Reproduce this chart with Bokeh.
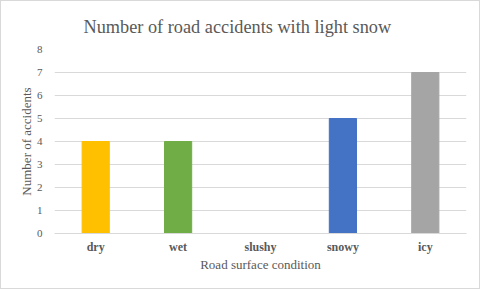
from bokeh.plotting import figure
from bokeh.models import ColumnDataSource, FactorRange, Range1d, FixedTicker
from bokeh.embed import file_html
from bokeh.resources import INLINE

# Data
categories = ["dry", "wet", "slushy", "snowy", "icy"]
accidents = [4, 4, 0, 5, 7]
bar_colors = ["#FFC000", "#70AD47", "#ED7D31", "#4472C4", "#A5A5A5"]
y_ticks = [0, 1, 2, 3, 4, 5, 6, 7, 8]

TEXT = "#595959"
GRID = "#d9d9d9"
FONT = "'Liberation Serif', 'Times New Roman', serif"

source = ColumnDataSource(dict(x=categories, top=accidents, color=bar_colors))

p = figure(width=480, height=289, output_backend="svg", toolbar_location=None,
           x_range=FactorRange(*categories, range_padding=0),
           y_range=Range1d(0, 8))
p.min_border_left = 53
p.min_border_right = 15
p.min_border_top = 48
p.min_border_bottom = 57
p.outline_line_color = None
p.background_fill_color = "white"
p.border_fill_color = "white"
p.styles = {"border": "1px solid #d9d9d9", "box-sizing": "border-box"}

p.vbar(x="x", top="top", width=0.33, color="color", source=source)

# title
p.title.text = "Number of road accidents with light snow"
p.title.align = "left"
p.title.offset = 29
p.title.text_font = FONT
p.title.text_font_size = "18.3px"
p.title.text_font_style = "normal"
p.title.text_color = TEXT
p.title.standoff = 25

# y axis
p.yaxis.ticker = FixedTicker(ticks=y_ticks)
p.yaxis.axis_line_color = None
p.yaxis.major_tick_line_color = None
p.yaxis.minor_tick_line_color = None
p.yaxis.major_tick_out = 0
p.yaxis.major_tick_in = 0
p.yaxis.major_label_text_font = FONT
p.yaxis.major_label_text_font_size = "11px"
p.yaxis.major_label_text_color = TEXT
p.yaxis.major_label_standoff = 12
p.yaxis.axis_label = "Number of accidents"
p.yaxis.axis_label_text_font = FONT
p.yaxis.axis_label_text_font_size = "13px"
p.yaxis.axis_label_text_font_style = "normal"
p.yaxis.axis_label_text_color = TEXT
p.yaxis.axis_label_standoff = 0

# x axis
p.xaxis.axis_line_color = GRID
p.xaxis.major_tick_line_color = None
p.xaxis.minor_tick_line_color = None
p.xaxis.major_tick_out = 0
p.xaxis.major_tick_in = 0
p.xaxis.major_label_text_font = FONT
p.xaxis.major_label_text_font_size = "12px"
p.xaxis.major_label_text_font_style = "bold"
p.xaxis.major_label_text_color = TEXT
p.xaxis.major_label_standoff = 6
p.xaxis.axis_label = "Road surface condition"
p.xaxis.axis_label_text_font = FONT
p.xaxis.axis_label_text_font_size = "13px"
p.xaxis.axis_label_text_font_style = "normal"
p.xaxis.axis_label_text_color = TEXT
p.xaxis.axis_label_standoff = 0

# grid
p.xgrid.grid_line_color = None
p.ygrid.grid_line_color = GRID
p.ygrid.grid_line_width = 1

open("out.html", "w").write(file_html(p, INLINE))
